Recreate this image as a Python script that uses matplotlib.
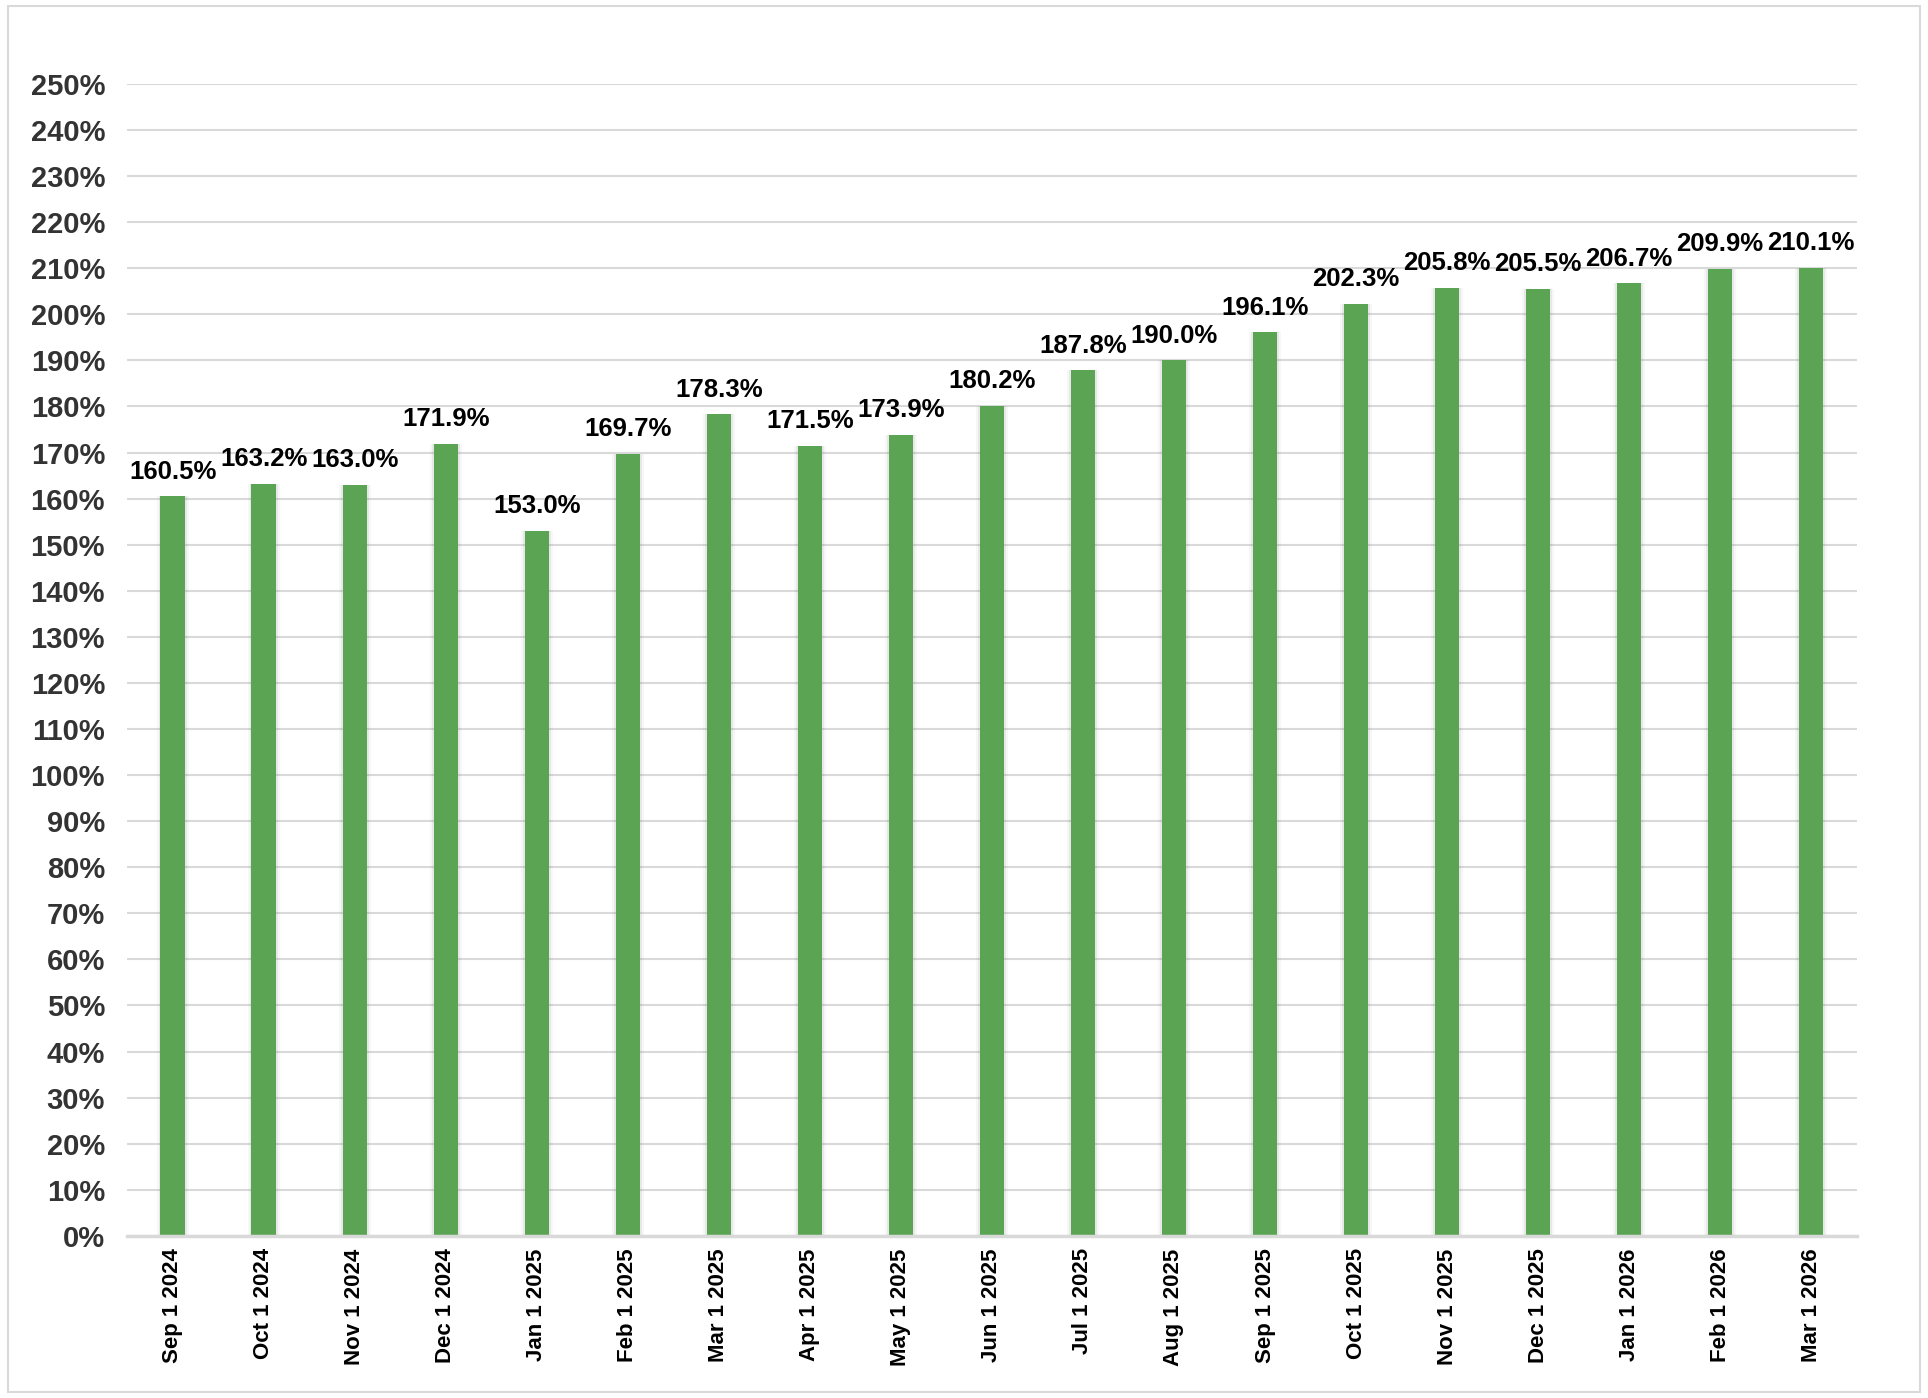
import matplotlib
matplotlib.use("Agg")
import matplotlib.pyplot as plt
from matplotlib.patches import Rectangle
from matplotlib.ticker import MultipleLocator, FuncFormatter

plt.rcParams["font.family"] = ["Liberation Sans", "DejaVu Sans"]

months = ["Sep 1 2024", "Oct 1 2024", "Nov 1 2024", "Dec 1 2024", "Jan 1 2025",
          "Feb 1 2025", "Mar 1 2025", "Apr 1 2025", "May 1 2025", "Jun 1 2025",
          "Jul 1 2025", "Aug 1 2025", "Sep 1 2025", "Oct 1 2025", "Nov 1 2025",
          "Dec 1 2025", "Jan 1 2026", "Feb 1 2026", "Mar 1 2026"]
values = [160.5, 163.2, 163.0, 171.9, 153.0, 169.7, 178.3, 171.5, 173.9, 180.2,
          187.8, 190.0, 196.1, 202.3, 205.8, 205.5, 206.7, 209.9, 210.1]

BAR_COLOR = "#5AA454"
GRID_COLOR = "#d9d9d9"
width = 0.27

fig = plt.figure(figsize=(19.28, 13.98), dpi=100)
ax = fig.add_axes([0.066, 0.116, 0.897, 0.824])

x = list(range(len(months)))

# soft shadow behind bars
ax.bar(x, values, width=width + 0.08, color="gray", alpha=0.06, zorder=2)
ax.bar(x, values, width=width + 0.04, color="gray", alpha=0.12, zorder=2)
bars = ax.bar(x, values, width=width, color=BAR_COLOR, zorder=3)

for xi, v in zip(x, values):
    ax.annotate(f"{v:.1f}%", (xi, v), xytext=(0, 9), textcoords="offset points",
                ha="center", va="bottom", fontsize=18.5, fontweight="bold",
                color="black", zorder=4)

ax.set_xlim(-0.5, len(months) - 0.5)
ax.set_ylim(0, 250)
ax.yaxis.set_major_locator(MultipleLocator(10))
ax.yaxis.set_major_formatter(FuncFormatter(lambda v, _: f"{v:.0f}%"))
ax.grid(axis="y", color=GRID_COLOR, linewidth=1.5, zorder=1)
ax.set_axisbelow(True)

ax.set_xticks(x)
ax.set_xticklabels(months, rotation=90, fontsize=16, fontweight="bold", color="black")
ax.tick_params(axis="x", length=0, pad=9)
ax.tick_params(axis="y", length=0, pad=16, labelsize=21, labelcolor="#333333")
for lbl in ax.get_yticklabels():
    lbl.set_fontweight("bold")

for side in ["top", "right", "left"]:
    ax.spines[side].set_visible(False)
ax.spines["bottom"].set_color(GRID_COLOR)
ax.spines["bottom"].set_linewidth(2.5)
ax.spines["bottom"].set_zorder(5)

# outer chart border
fig.patches.append(Rectangle((0.004, 0.004), 0.992, 0.992, transform=fig.transFigure,
                             fill=False, edgecolor=GRID_COLOR, linewidth=1.5))

fig.savefig("out.png", dpi=100)
